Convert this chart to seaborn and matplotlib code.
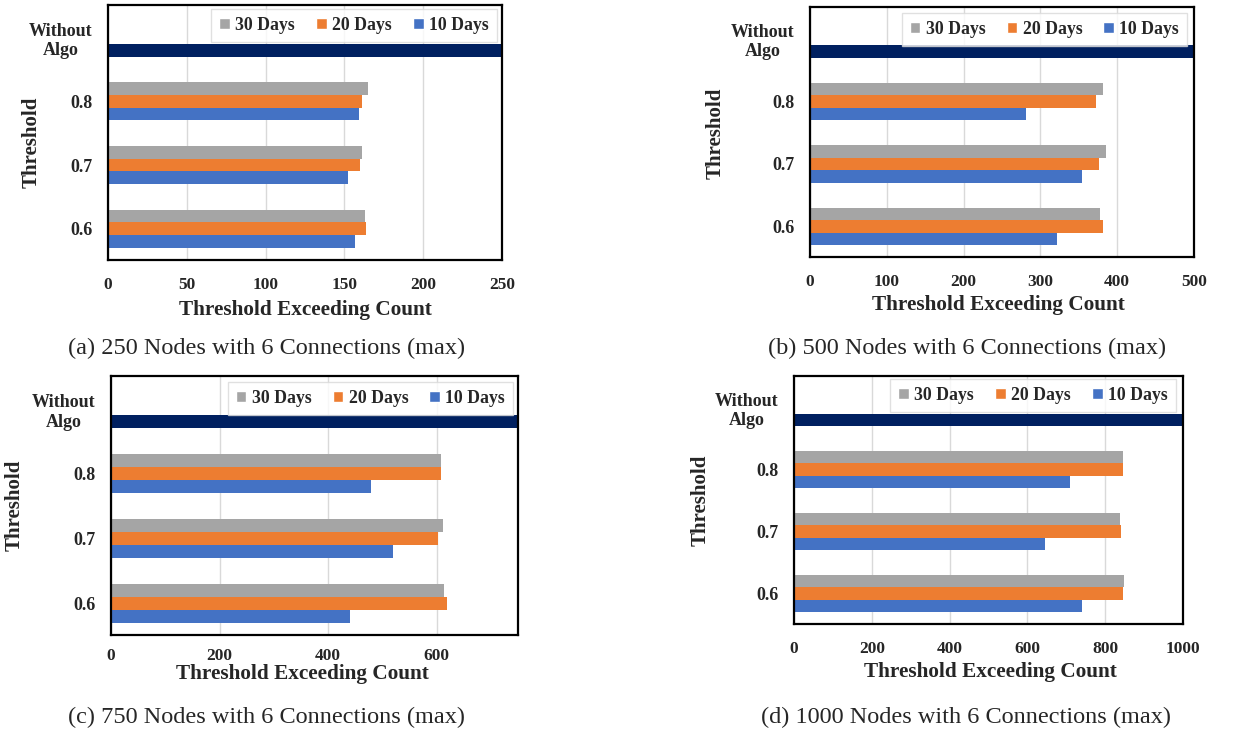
import pandas as pd
import matplotlib.pyplot as plt
import seaborn as sns
from matplotlib.patches import Patch

# ---- data (order: 0.8, 0.7, 0.6) ----
thresholds = ['0.8', '0.7', '0.6']
periods = ['30 Days', '20 Days', '10 Days']

a_30 = [165, 161, 163]
a_20 = [161, 160, 164]
a_10 = [159, 152, 157]

b_30 = [381, 386, 378]
b_20 = [372, 376, 381]
b_10 = [281, 354, 322]

c_30 = [609, 611, 613]
c_20 = [609, 603, 619]
c_10 = [480, 520, 440]

d_30 = [845, 838, 849]
d_20 = [845, 841, 845]
d_10 = [710, 644, 740]

# the "Without Algo" bar runs past the right edge in every panel
without_algo = [260, 520, 780, 1040]

x_max = [250, 500, 750, 1000]
x_ticks = [[0, 50, 100, 150, 200, 250],
           [0, 100, 200, 300, 400, 500],
           [0, 200, 400, 600],
           [0, 200, 400, 600, 800, 1000]]
captions = ['(a) 250 Nodes with 6 Connections (max)',
            '(b) 500 Nodes with 6 Connections (max)',
            '(c) 750 Nodes with 6 Connections (max)',
            '(d) 1000 Nodes with 6 Connections (max)']

colors = {'30 Days': '#A5A5A5', '20 Days': '#ED7D31', '10 Days': '#4472C4'}
navy = '#002060'


def make_df(s30, s20, s10, wo):
    recs = [('Without\nAlgo', '10 Days', wo)]
    for i, t in enumerate(thresholds):
        recs.append((t, '30 Days', s30[i]))
        recs.append((t, '20 Days', s20[i]))
        recs.append((t, '10 Days', s10[i]))
    return pd.DataFrame(recs, columns=['Threshold', 'Period', 'Count'])


sns.set_style('white')
plt.rcParams['font.family'] = ['Liberation Serif', 'DejaVu Serif']
plt.rcParams['font.weight'] = 'bold'

fig = plt.figure(figsize=(12.37, 7.33), dpi=100)

# axes boxes in pixels: left, top, right, bottom
boxes = [(108, 5, 502, 260), (810, 7, 1194, 257),
         (111, 376, 518, 635), (794, 376, 1183, 624)]
xlab_pos = [(0.5, -0.196), (0.49, -0.192), (0.47, -0.152), (0.506, -0.194)]
ylab_pos = [(-0.195, 0.46), (-0.247, 0.496), (-0.236, 0.5), (-0.239, 0.5)]
leg_pos = [(0.987, 0.984), (0.982, 0.976), (0.988, 0.977), (0.982, 0.988)]
xtick_pad = [12, 12, 9, 12]
caption_pos = [(267, 348), (967, 348), (267, 717), (966, 717)]

dfs = [make_df(a_30, a_20, a_10, without_algo[0]),
       make_df(b_30, b_20, b_10, without_algo[1]),
       make_df(c_30, c_20, c_10, without_algo[2]),
       make_df(d_30, d_20, d_10, without_algo[3])]

W, H = 1237, 733
for k, df in enumerate(dfs):
    l, t, r, b = boxes[k]
    ax = fig.add_axes([l / W, 1 - b / H, (r - l) / W, (b - t) / H])
    ax.set_axisbelow(True)
    sns.barplot(data=df, x='Count', y='Threshold', hue='Period',
                order=['Without\nAlgo'] + thresholds, hue_order=periods,
                palette=colors, orient='h', width=0.6, saturation=1,
                linewidth=0, legend=False, ax=ax)
    # recolor the Without Algo bar
    for bar in ax.patches:
        yc = bar.get_y() + bar.get_height() / 2
        if yc < 0.5 and bar.get_width() > 0:
            bar.set_facecolor(navy)
    ax.set_xlim(0, x_max[k])
    ax.set_ylim(3.49, -0.51)
    ax.set_xticks(x_ticks[k])
    ax.grid(axis='x', color='#D9D9D9', linewidth=1)
    ax.grid(axis='y', visible=False)
    for s in ax.spines.values():
        s.set_visible(True)
        s.set_color('black')
        s.set_linewidth(1.6)
    ax.tick_params(axis='x', length=0, pad=xtick_pad[k], labelsize=12.5)
    ax.tick_params(axis='y', length=0, pad=11, labelsize=13)
    for lab in ax.get_xticklabels() + ax.get_yticklabels():
        lab.set_fontweight('bold')
    for lab in ax.get_yticklabels():
        lab.set_multialignment('center')
    ax.set_xlabel('Threshold Exceeding Count', fontsize=15.3, fontweight='bold')
    ax.xaxis.label.set_va('center')
    ax.xaxis.set_label_coords(*xlab_pos[k])
    ax.set_ylabel('Threshold', fontsize=15, fontweight='bold')
    ax.yaxis.label.set_va('center')
    ax.yaxis.set_label_coords(*ylab_pos[k])

    handles = [Patch(facecolor=colors[p], label=p) for p in periods]
    leg = ax.legend(handles=handles, ncol=3, loc='upper right',
                    bbox_to_anchor=leg_pos[k], borderaxespad=0,
                    frameon=True, fancybox=False,
                    handlelength=0.6, handleheight=0.6, handletextpad=0.3,
                    columnspacing=1.2, borderpad=0.45,
                    prop={'size': 12.8, 'weight': 'bold'})
    leg.get_frame().set_edgecolor('#D9D9D9')
    leg.get_frame().set_linewidth(1)

    cx, cy = caption_pos[k]
    fig.text(cx / W, 1 - cy / H, captions[k], ha='center', va='center',
             fontsize=17.5, fontweight='normal')

plt.savefig('out.png', dpi=100)
plt.close()
